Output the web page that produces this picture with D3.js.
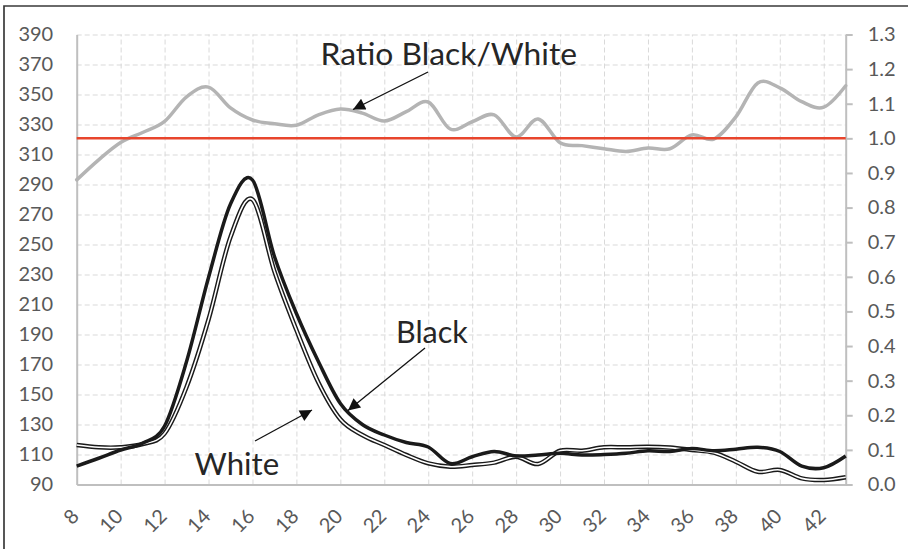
<!DOCTYPE html>
<html>
<head>
<meta charset="utf-8">
<script src="https://cdn.jsdelivr.net/npm/d3@7"></script>
<style>
  body { margin: 0; background: #fff; }
  svg { display: block; font-family: Lato, "Open Sans", sans-serif; }
  .axis .domain { stroke: #bfbfbf; stroke-width: 2; }
  .axis .tick line { stroke: #bfbfbf; stroke-width: 2; }
  .grid .domain { display: none; }
  .grid .tick line { stroke: #d9d9d9; stroke-width: 1; stroke-dasharray: 5 3; }
  .note { fill: #262626; }
</style>
</head>
<body>
<script>
const days = [8, 9, 10, 11, 12, 13, 14, 15, 16, 17, 18, 19, 20, 21, 22, 23, 24, 25,
  26, 27, 28, 29, 30, 31, 32, 33, 34, 35, 36, 37, 38, 39, 40, 41, 42, 43];
const black = [102.3, 107.5, 113, 117.5, 129, 172, 228, 277, 293, 242, 204, 172,
  144, 130, 123, 118, 115, 104, 108.5, 112, 109, 109.7, 110.8, 109.7, 110, 110.8,
  112.5, 112, 114, 112.5, 113.5, 114.8, 112, 102.3, 101.2, 109];
const white = [116.3, 114.8, 114.8, 117, 124, 155, 200, 255, 280, 232, 193, 158,
  133.5, 123, 116.3, 109.7, 104.1, 101.9, 103, 104.6, 108.5, 103.7, 112.5, 112.5,
  114.8, 114.8, 115.2, 114.6, 113, 111.2, 105.2, 98.5, 99.7, 94.1, 93, 94.8];
const ratio = [0.88, 0.938, 0.988, 1.017, 1.049, 1.12, 1.148, 1.088, 1.053, 1.042,
  1.038, 1.068, 1.085, 1.073, 1.05, 1.077, 1.105, 1.027, 1.048, 1.068, 1.004, 1.056,
  0.987, 0.979, 0.97, 0.962, 0.972, 0.97, 1.01, 0.998, 1.062, 1.16, 1.146, 1.106,
  1.09, 1.152];
const refLine = 1.0;
const leftTicks = d3.range(90, 391, 20);
const rightTicks = d3.range(0, 14).map(d => d / 10);
const xTicks = d3.range(8, 43, 2);

const W = 908, H = 549;
const margin = { top: 34.5, right: 62.3, bottom: 64.5, left: 76.7 };
const width = W - margin.left - margin.right;
const height = H - margin.top - margin.bottom;
const tickFont = 20;

const svg = d3.select("body").append("svg").attr("width", W).attr("height", H);

// frame (only left & top edges show in the crop)
svg.append("path")
  .attr("d", `M4,${H} V6 H${W}`)
  .attr("fill", "none")
  .attr("stroke", "#3a3a3a")
  .attr("stroke-width", 1.7);

const g = svg.append("g").attr("transform", `translate(${margin.left},${margin.top})`);

const x = d3.scaleLinear().domain([8, 43]).range([0, width]);
const yL = d3.scaleLinear().domain([90, 390]).range([height, 0]);
const yR = d3.scaleLinear().domain([0, 1.3]).range([height, 0]);

// grid
g.append("g").attr("class", "grid")
  .call(d3.axisLeft(yL).tickValues(leftTicks.slice(1)).tickSize(-width).tickFormat(""));
g.append("g").attr("class", "grid")
  .attr("transform", `translate(0,${height})`)
  .call(d3.axisBottom(x).tickValues(xTicks.slice(1)).tickSize(-height).tickFormat(""));

// axes
g.append("g").attr("class", "axis")
  .call(d3.axisLeft(yL).tickValues(leftTicks).tickSize(0).tickPadding(23.5));
g.append("g").attr("class", "axis")
  .attr("transform", `translate(${width},0)`)
  .call(d3.axisRight(yR).tickValues(rightTicks).tickSize(7).tickSizeOuter(0)
    .tickPadding(15).tickFormat(d3.format(".1f")));
const xAxis = g.append("g").attr("class", "axis")
  .attr("transform", `translate(0,${height})`)
  .call(d3.axisBottom(x).tickValues(xTicks).tickSize(0).tickSizeOuter(0));
xAxis.selectAll("text")
  .attr("x", 0).attr("y", 0).attr("dy", 0)
  .attr("text-anchor", "end")
  .attr("transform", "translate(3,33) rotate(-45)");
g.selectAll(".axis")
  .attr("font-family", "Lato")
  .attr("font-size", tickFont)
  .selectAll("text").attr("fill", "#595959");

const curve = d3.curveCardinal.tension(0);
const lineL = d3.line().x((d, i) => x(days[i])).y(d => yL(d)).curve(curve);
const lineR = d3.line().x((d, i) => x(days[i])).y(d => yR(d)).curve(curve);

// white: double line
g.append("path").datum(white).attr("d", lineL)
  .attr("fill", "none").attr("stroke", "#1a1a1a").attr("stroke-width", 4.5);
g.append("path").datum(white).attr("d", lineL)
  .attr("fill", "none").attr("stroke", "#fff").attr("stroke-width", 1.6);
// black
g.append("path").datum(black).attr("d", lineL)
  .attr("fill", "none").attr("stroke", "#1a1a1a").attr("stroke-width", 3.5)
  .attr("stroke-linejoin", "round");

// ratio + 1.0 reference
g.append("path").datum(ratio).attr("d", lineR)
  .attr("fill", "none").attr("stroke", "#b4b4b4").attr("stroke-width", 3.5)
  .attr("stroke-linecap", "round");
g.append("line")
  .attr("x1", 0).attr("x2", width)
  .attr("y1", yR(refLine)).attr("y2", yR(refLine))
  .attr("stroke", "#e8452c").attr("stroke-width", 2.5);

// annotations
svg.append("defs").append("marker")
  .attr("id", "tri").attr("viewBox", "0 0 10 10")
  .attr("refX", 10).attr("refY", 5)
  .attr("markerUnits", "userSpaceOnUse")
  .attr("markerWidth", 15).attr("markerHeight", 12)
  .attr("orient", "auto")
  .append("path").attr("d", "M0,0 L10,5 L0,10 Z").attr("fill", "#111");

const notes = [
  { text: "Ratio Black/White", x: 320.5, y: 65, size: 31.8, from: [428, 72], to: [353, 109.5] },
  { text: "Black", x: 396, y: 343, size: 30.5, from: [425, 348], to: [348, 410.5] },
  { text: "White", x: 194.5, y: 475, size: 31.2, from: [255, 441], to: [312, 410] }
];
notes.forEach(n => {
  svg.append("text").attr("class", "note")
    .attr("x", n.x).attr("y", n.y)
    .attr("font-size", n.size)
    .text(n.text);
  svg.append("line")
    .attr("x1", n.from[0]).attr("y1", n.from[1])
    .attr("x2", n.to[0]).attr("y2", n.to[1])
    .attr("stroke", "#111").attr("stroke-width", 1.3)
    .attr("marker-end", "url(#tri)");
});
</script>
</body>
</html>
